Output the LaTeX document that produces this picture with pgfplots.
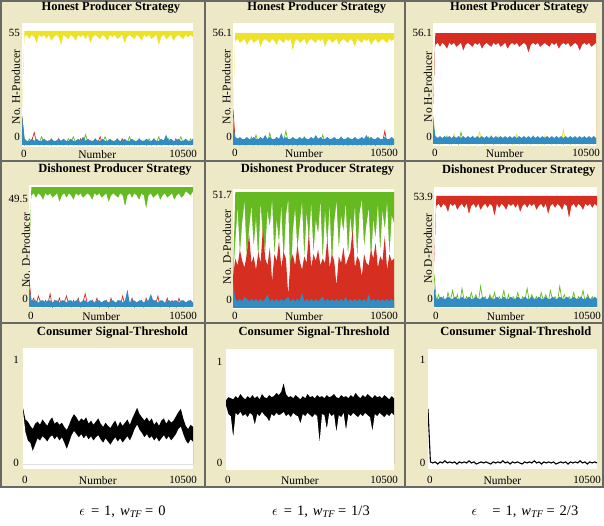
\documentclass[border=0pt]{standalone}
\usepackage{pgfplots}
\pgfplotsset{compat=1.18}
\usepackage{pgfplotstable}
\usepackage{fontspec}
\setmainfont{Liberation Serif}

\definecolor{panelbg}{RGB}{237,232,197}
\definecolor{framegray}{RGB}{105,105,100}
\definecolor{nlyellow}{RGB}{238,226,40}
\definecolor{nlgreen}{RGB}{100,186,32}
\definecolor{nlred}{RGB}{214,46,32}
\definecolor{nlblue}{RGB}{48,140,194}

% ---------- honest producers, w_TF = 0 : yellow range (lo/hi), green, red, blue ----------
\pgfplotstableread{
yl yh g r b
15 15 14 13 14
52 55 2 0 3
53 55 0 1 2
51 55 3 0 2
53 55 1 2 3
52 55 0 6 2
49 55 2 1 3
53 55 1 0 2
52 55 4 1 2
53 55 1 0 3
51 55 2 1 2
53 55 0 2 2
50 55 3 0 3
52 55 1 1 2
53 55 2 0 2
52 55 1 3 3
48 55 0 1 2
53 55 2 0 3
52 55 1 1 2
51 55 3 0 2
53 55 1 2 3
52 55 4 0 2
50 55 1 1 2
53 55 2 0 3
52 55 0 3 2
53 55 1 0 4
51 55 5 1 2
53 55 1 0 3
49 55 2 2 2
52 55 0 1 2
53 55 3 0 3
52 55 1 1 2
51 55 2 4 2
53 55 1 0 3
52 55 4 1 2
50 55 1 0 2
53 55 0 2 3
52 55 2 1 2
53 55 1 0 2
51 55 3 1 3
52 55 1 0 2
53 55 0 3 2
49 55 2 0 3
52 55 1 1 2
53 55 4 0 2
52 55 1 2 3
51 55 2 0 2
53 55 0 1 2
52 55 3 0 3
50 55 1 2 2
53 55 2 1 2
52 55 0 0 3
53 55 3 1 2
51 55 1 0 2
52 55 2 3 3
53 55 1 0 2
48 55 4 1 2
52 55 0 0 3
53 55 2 2 2
51 55 1 1 5
52 55 3 0 2
53 55 1 1 3
50 55 0 0 2
52 55 2 3 2
53 55 1 0 3
52 55 4 1 2
51 55 1 0 2
53 55 2 2 3
52 55 0 1 2
53 55 3 0 2
52 55 1 1 3
}\hA

% ---------- honest producers, w_TF = 1/3 ----------
\pgfplotstableread{
yl yh g r b
14 14 12 18 10
52 56 2 1 4
53 56 1 3 3
51 56 3 0 4
52 56 1 2 3
53 56 0 1 3
50 56 2 0 4
52 56 1 2 3
53 56 4 1 3
51 56 1 0 4
52 56 5 1 3
53 56 1 0 3
49 56 2 3 4
52 56 0 1 3
53 56 3 0 5
52 56 1 1 3
51 56 6 0 4
53 56 1 2 3
52 56 2 0 3
50 56 0 1 4
53 56 3 0 3
52 56 1 2 6
51 56 2 0 3
53 56 7 1 4
52 56 1 0 3
53 56 2 2 3
47 56 1 0 4
52 56 3 1 3
53 56 0 0 3
51 56 2 1 4
52 56 1 0 3
53 56 4 2 4
50 56 1 0 3
52 56 2 1 3
53 56 0 0 4
52 56 3 1 3
51 56 1 0 5
53 56 2 3 3
52 56 1 0 4
53 56 5 1 3
49 56 1 0 3
52 56 2 1 4
53 56 0 0 3
51 56 3 2 3
52 56 1 0 4
53 56 2 1 3
50 56 1 0 3
52 56 4 1 4
53 56 1 0 3
52 56 2 2 3
51 56 0 0 4
53 56 3 1 3
52 56 1 0 3
49 56 2 1 4
53 56 1 0 3
52 56 3 2 3
51 56 0 0 4
53 56 2 1 3
52 56 1 0 5
53 56 4 1 3
50 56 1 0 4
52 56 2 1 3
53 56 0 0 3
51 56 3 2 4
52 56 1 0 3
53 56 2 1 3
52 56 1 7 4
51 56 2 0 3
53 56 0 1 3
52 56 3 0 4
53 56 1 1 3
}\hB

% ---------- honest producers, w_TF = 2/3 : red range, yellow, green, blue ----------
\pgfplotstableread{
rl rh y g b
17 17 10 14 12
50 56 2 1 4
51 56 1 3 3
49 56 3 0 4
51 56 0 2 3
50 56 2 1 4
48 56 1 4 3
51 56 3 0 4
50 56 0 2 3
51 56 5 1 4
49 56 1 3 3
50 56 2 0 4
51 56 0 6 3
47 56 3 1 4
50 56 1 2 3
51 56 2 0 4
50 56 0 3 3
49 56 4 1 4
51 56 1 2 3
50 56 2 0 4
51 56 6 1 3
48 56 1 3 4
50 56 2 0 3
51 56 0 2 4
50 56 3 1 3
49 56 1 4 4
51 56 2 0 3
50 56 0 2 4
51 56 4 1 3
49 56 1 0 4
50 56 2 3 3
51 56 0 1 4
48 56 3 0 3
50 56 1 2 4
51 56 2 0 3
50 56 0 3 4
51 56 5 1 3
49 56 1 0 4
50 56 2 2 3
51 56 0 1 4
50 56 3 0 3
46 56 1 2 4
50 56 2 0 3
51 56 0 4 4
50 56 3 1 3
51 56 1 0 4
49 56 2 2 3
50 56 0 1 4
51 56 4 0 3
50 56 1 3 4
49 56 2 1 3
51 56 0 0 4
50 56 3 2 3
51 56 1 0 4
48 56 2 1 3
50 56 0 3 4
51 56 7 0 3
50 56 1 2 4
51 56 2 1 3
49 56 0 0 4
50 56 3 2 3
51 56 1 0 4
50 56 2 1 3
47 56 0 3 4
50 56 3 0 3
51 56 1 2 4
50 56 2 1 3
51 56 0 0 4
49 56 3 2 3
50 56 1 0 4
51 56 2 1 3
}\hC

% ---------- dishonest producers, w_TF = 0 : green range, yellow, red, blue ----------
\pgfplotstableread{
gl gh y r b
13 13 6 13 10
51 55 1 2 3
52 55 0 4 3
50 55 2 1 3
52 55 0 5 2
51 55 1 2 3
49 55 3 0 3
52 55 0 3 2
51 55 1 1 3
52 55 0 6 3
50 55 2 0 2
51 55 0 3 3
52 55 1 1 3
48 55 0 4 2
51 55 2 0 3
52 55 0 2 3
50 55 1 5 2
52 55 0 1 3
51 55 3 0 3
49 55 0 3 2
52 55 1 1 3
51 55 0 4 3
52 55 2 0 2
50 55 0 2 3
51 55 1 6 3
52 55 0 1 2
51 55 2 0 3
49 55 0 3 3
52 55 1 1 2
51 55 0 4 3
52 55 3 0 3
50 55 0 2 2
51 55 1 1 3
52 55 0 3 3
48 55 2 0 2
51 55 0 4 3
52 55 1 1 3
51 55 0 0 2
50 55 2 3 3
52 55 0 1 3
51 55 1 5 2
46 55 0 0 3
51 55 3 2 8
52 55 0 1 2
50 55 1 4 3
52 55 0 0 3
51 55 2 2 2
49 55 0 1 3
52 55 1 3 3
51 55 0 0 2
45 55 2 4 3
51 55 0 1 3
52 55 1 0 6
50 55 0 3 3
51 55 3 1 3
52 55 0 5 2
49 55 1 0 3
51 55 0 2 3
52 55 2 1 2
50 55 0 4 3
51 55 1 0 3
52 55 0 3 2
49 55 2 1 3
51 55 0 0 3
52 55 1 4 2
50 55 0 1 3
51 55 3 0 3
53 55 0 2 2
52 55 1 1 3
51 55 0 3 3
53 55 1 1 2
}\dA

% ---------- dishonest producers, w_TF = 1/3 : green and red ranges, blue ----------
\pgfplotstableread{
gl gh rl rh b
12 14 12 14 12
30 51.7 3 22 4
44 51.7 2 19 3
24 51.7 4 26 4
38 51.7 3 21 3
47 51.7 2 18 5
22 51.7 3 24 4
35 51.7 4 33 3
45 51.7 2 20 4
27 51.7 3 23 3
40 51.7 4 17 4
21 51.7 2 25 3
46 51.7 3 20 4
32 51.7 4 36 3
25 51.7 2 22 4
43 51.7 3 19 6
36 51.7 4 27 3
48 51.7 2 12 4
23 51.7 3 24 3
39 51.7 4 21 4
29 51.7 2 30 3
45 51.7 3 18 4
20 51.7 4 25 3
41 51.7 2 22 4
48 51.7 3 6 5
5 51.7 4 21 3
34 51.7 2 24 4
44 51.7 3 19 3
26 51.7 4 28 4
37 51.7 2 21 3
47 51.7 3 17 7
22 51.7 4 23 3
42 51.7 2 20 4
30 51.7 3 34 3
46 51.7 4 18 4
24 51.7 2 24 3
39 51.7 3 21 4
33 51.7 4 26 3
47 51.7 2 19 4
21 51.7 3 22 5
43 51.7 4 20 3
28 51.7 2 31 4
45 51.7 3 18 3
19 51.7 4 24 4
38 51.7 2 21 3
47 51.7 3 10 4
26 51.7 4 23 3
41 51.7 2 20 4
34 51.7 3 27 3
46 51.7 4 19 5
23 51.7 2 22 3
40 51.7 3 25 4
30 51.7 4 35 3
45 51.7 2 18 4
22 51.7 3 23 3
42 51.7 4 21 4
48 51.7 2 14 3
27 51.7 3 24 4
37 51.7 4 20 3
44 51.7 2 19 6
21 51.7 3 26 3
39 51.7 4 22 4
31 51.7 2 29 3
46 51.7 3 18 4
25 51.7 4 23 3
43 51.7 2 21 4
35 51.7 3 32 3
47 51.7 4 17 4
23 51.7 2 24 3
41 51.7 3 21 4
38 51.7 4 22 3
}\dB

% ---------- dishonest producers, w_TF = 2/3 : red range, green, yellow, blue ----------
\pgfplotstableread{
rl rh g y b
19 19 16 8 10
49 53.9 3 1 4
50 53.9 6 2 4
48 53.9 2 4 5
50 53.9 5 1 4
49 53.9 1 3 4
46 53.9 7 0 5
50 53.9 3 2 4
49 53.9 8 1 4
50 53.9 2 5 5
47 53.9 6 1 4
49 53.9 1 2 4
50 53.9 9 0 5
48 53.9 3 3 4
50 53.9 5 1 4
45 53.9 2 2 5
49 53.9 7 0 4
50 53.9 3 4 4
48 53.9 6 1 5
50 53.9 2 2 4
47 53.9 10 0 4
49 53.9 3 3 5
50 53.9 5 1 4
48 53.9 1 2 4
50 53.9 6 0 5
49 53.9 3 5 4
44 53.9 7 1 4
50 53.9 2 2 5
48 53.9 5 0 4
50 53.9 3 3 4
49 53.9 8 1 5
47 53.9 2 2 4
50 53.9 6 0 4
49 53.9 1 4 5
50 53.9 5 1 4
48 53.9 3 2 4
50 53.9 7 0 5
46 53.9 2 3 4
49 53.9 5 1 4
50 53.9 3 2 5
48 53.9 9 0 4
50 53.9 2 3 4
49 53.9 6 1 5
50 53.9 3 2 4
47 53.9 5 0 4
49 53.9 1 4 5
50 53.9 7 1 4
48 53.9 3 2 4
50 53.9 6 0 5
45 53.9 2 3 4
49 53.9 8 1 4
50 53.9 3 2 5
48 53.9 5 0 4
50 53.9 2 4 4
49 53.9 10 1 5
47 53.9 3 2 4
50 53.9 6 0 4
49 53.9 2 3 5
43 53.9 5 1 4
49 53.9 3 2 4
50 53.9 7 0 5
48 53.9 2 4 4
50 53.9 5 1 4
49 53.9 3 2 5
47 53.9 8 0 4
50 53.9 2 3 4
49 53.9 6 1 5
50 53.9 3 2 4
48 53.9 5 0 4
50 53.9 2 3 5
49 53.9 4 1 4
}\dC

% ---------- consumer signal threshold, w_TF = 0 (lo/hi) ----------
\pgfplotstableread{
lo hi
0.50 0.53
0.30 0.42
0.22 0.40
0.20 0.36
0.12 0.33
0.18 0.38
0.24 0.40
0.22 0.37
0.26 0.42
0.24 0.39
0.21 0.36
0.25 0.41
0.27 0.44
0.23 0.38
0.26 0.40
0.22 0.37
0.25 0.39
0.20 0.35
0.14 0.32
0.20 0.37
0.27 0.43
0.31 0.47
0.28 0.44
0.25 0.40
0.28 0.43
0.24 0.41
0.27 0.44
0.23 0.38
0.26 0.41
0.22 0.37
0.25 0.40
0.27 0.43
0.23 0.38
0.20 0.35
0.24 0.39
0.21 0.36
0.18 0.34
0.22 0.38
0.25 0.41
0.21 0.35
0.24 0.40
0.20 0.36
0.23 0.39
0.26 0.42
0.22 0.37
0.27 0.43
0.33 0.48
0.37 0.53
0.32 0.47
0.29 0.44
0.25 0.41
0.28 0.44
0.24 0.40
0.26 0.43
0.22 0.37
0.25 0.40
0.21 0.36
0.24 0.41
0.27 0.43
0.23 0.38
0.26 0.42
0.22 0.39
0.25 0.41
0.28 0.45
0.33 0.49
0.35 0.52
0.28 0.43
0.22 0.36
0.19 0.33
0.23 0.37
0.21 0.35
}\cA

% ---------- consumer signal threshold, w_TF = 1/3 (lo/hi) ----------
\pgfplotstableread{
lo hi
0.55 0.60
0.47 0.63
0.45 0.62
0.25 0.61
0.48 0.64
0.46 0.62
0.49 0.66
0.45 0.63
0.47 0.61
0.44 0.64
0.48 0.62
0.46 0.65
0.37 0.62
0.47 0.64
0.45 0.61
0.49 0.66
0.46 0.63
0.44 0.62
0.40 0.65
0.47 0.63
0.45 0.64
0.48 0.67
0.46 0.65
0.47 0.68
0.49 0.76
0.45 0.66
0.47 0.63
0.44 0.64
0.48 0.62
0.46 0.65
0.45 0.63
0.38 0.61
0.47 0.64
0.45 0.62
0.48 0.66
0.46 0.63
0.44 0.64
0.47 0.62
0.45 0.65
0.20 0.63
0.47 0.64
0.46 0.62
0.33 0.65
0.48 0.63
0.45 0.64
0.47 0.66
0.30 0.63
0.46 0.62
0.44 0.65
0.48 0.63
0.32 0.64
0.47 0.62
0.45 0.65
0.48 0.63
0.46 0.67
0.44 0.64
0.47 0.62
0.45 0.65
0.48 0.63
0.46 0.66
0.44 0.64
0.31 0.62
0.47 0.65
0.45 0.63
0.48 0.64
0.46 0.62
0.44 0.65
0.47 0.63
0.45 0.61
0.48 0.64
0.46 0.62
}\cB

% ---------- consumer signal threshold, w_TF = 2/3 ----------
\pgfplotstableread[row sep=\\]{
v\\0.52\\0.02\\0.01\\0.02\\0.00\\0.02\\0.01\\0.03\\0.01\\0.02\\
0.01\\0.02\\0.00\\0.02\\0.01\\0.02\\0.01\\0.03\\0.01\\0.02\\
0.00\\0.01\\0.02\\0.01\\0.02\\0.01\\0.00\\0.02\\0.01\\0.02\\
0.01\\0.03\\0.01\\0.02\\0.00\\0.02\\0.01\\0.02\\0.01\\0.00\\
0.02\\0.01\\0.02\\0.01\\0.03\\0.01\\0.02\\0.00\\0.02\\0.01\\
0.02\\0.01\\0.02\\0.00\\0.01\\0.02\\0.01\\0.02\\0.00\\0.02\\
0.01\\0.02\\0.01\\0.03\\0.01\\0.02\\0.00\\0.02\\0.01\\0.02\\
0.01\\
}\cC

\pgfplotsset{
  nlbase/.style={
    scale only axis, anchor=north west,
    axis background/.style={fill=white},
    axis line style={draw=none},
    major tick length=0pt, tick style={draw=none},
    xmin=0, xmax=10500, clip=true,
    scaled x ticks=false, scaled y ticks=false,
    ticklabel style={font=\fontsize{11}{12}\selectfont, inner sep=0pt},
    xtick={0}, xticklabels={0},
    extra x ticks={10500}, extra x tick labels={10500},
    xticklabel style={anchor=north west, xshift=-1pt},
    extra x tick style={xticklabel style={anchor=north east, xshift=5pt}},
    xlabel={Number},
    xlabel style={at={(axis description cs:0.44,0)}, anchor=north, inner sep=0pt,
      font=\fontsize{11.5}{12}\selectfont},
    % the y label is turned by 90 degrees, so its yshift moves it to the left
    ylabel style={anchor=center, inner sep=0pt, font=\fontsize{11.5}{12}\selectfont},
    title style={anchor=center, inner sep=0pt, font=\bfseries\fontsize{12.5}{14}\selectfont},
    ytick={0}, yticklabels={0},
    yticklabel style={anchor=east},
  },
  row1/.style={xticklabel style={yshift=-3pt}, xlabel style={yshift=-3pt}},
  row2/.style={xticklabel style={yshift=-4pt}, xlabel style={yshift=-4pt}},
  row3/.style={xticklabel style={yshift=-7pt}, xlabel style={yshift=-7pt}},
  % range of a series: colour up to the maximum, then white up to the minimum
  hiarea/.style={draw=none, fill=#1},
  loarea/.style={draw=none, fill=white},
}

\begin{document}
\begin{tikzpicture}
% panel frames
\begin{scope}[x=1pt,y=-1pt]
  \fill[white] (0,0) rectangle (604,526);
  \fill[framegray] (0,0) rectangle (604,488);
  \foreach \xa/\xb in {2/203.5, 205.5/403.5, 405.5/602}{
    \foreach \ya/\yb in {2/160.5, 162.5/322, 324/486}{
      \fill[panelbg] (\xa,\ya) rectangle (\xb,\yb);
    }
  }
\end{scope}

% ===== row 1 : honest producers =====
\begin{axis}[nlbase, row1, at={(22pt,-23pt)}, width=171pt, height=124pt,
  ymin=-0.97, ymax=58.86,
  title={Honest Producer Strategy}, title style={at={(axis description cs:0.52,1)}, yshift=9pt},
  ylabel={No. H-Producer}, ylabel style={at={(axis description cs:0,0.484)}, yshift=6pt},
  yticklabel style={xshift=-2pt, yshift=8pt},
  extra y ticks={55}, extra y tick labels={55}, extra y tick style={yticklabel style={yshift=-10pt}}]
  \addplot[hiarea=nlyellow] table[x expr=\coordindex*150, y=yh] {\hA} \closedcycle;
  \addplot[loarea] table[x expr=\coordindex*150, y=yl] {\hA} \closedcycle;
  \addplot[nlgreen, line width=0.7pt] table[x expr=\coordindex*150, y=g] {\hA};
  \addplot[nlred, line width=0.7pt] table[x expr=\coordindex*150, y=r] {\hA};
  \addplot[draw=none, fill=nlblue] table[x expr=\coordindex*150, y=b] {\hA} \closedcycle;
\end{axis}

\begin{axis}[nlbase, row1, at={(233pt,-23pt)}, width=161pt, height=123pt,
  ymin=-0.5, ymax=61.11,
  title={Honest Producer Strategy}, title style={at={(axis description cs:0.52,1)}, yshift=9pt},
  ylabel={No. H-Producer}, ylabel style={at={(axis description cs:0,0.48)}, yshift=6.5pt},
  yticklabel style={xshift=-1pt, yshift=8pt},
  extra y ticks={56.1}, extra y tick labels={56.1}, extra y tick style={yticklabel style={yshift=-8pt}}]
  \addplot[hiarea=nlyellow] table[x expr=\coordindex*150, y=yh] {\hB} \closedcycle;
  \addplot[loarea] table[x expr=\coordindex*150, y=yl] {\hB} \closedcycle;
  \addplot[nlgreen, line width=0.7pt] table[x expr=\coordindex*150, y=g] {\hB};
  \addplot[nlred, line width=0.7pt] table[x expr=\coordindex*150, y=r] {\hB};
  \addplot[draw=none, fill=nlblue] table[x expr=\coordindex*150, y=b] {\hB} \closedcycle;
\end{axis}

\begin{axis}[nlbase, row1, at={(433pt,-23pt)}, width=163pt, height=123pt,
  ymin=-1.01, ymax=61.15,
  title={Honest Producer Strategy}, title style={at={(axis description cs:0.53,1)}, yshift=9pt},
  ylabel={No H-Producer}, ylabel style={at={(axis description cs:0,0.48)}, yshift=5pt},
  yticklabel style={xshift=-1pt, yshift=7pt},
  extra y ticks={56.1}, extra y tick labels={56.1}, extra y tick style={yticklabel style={yshift=-7pt}}]
  \addplot[hiarea=nlred] table[x expr=\coordindex*150, y=rh] {\hC} \closedcycle;
  \addplot[loarea] table[x expr=\coordindex*150, y=rl] {\hC} \closedcycle;
  \addplot[nlyellow, line width=0.7pt] table[x expr=\coordindex*150, y=y] {\hC};
  \addplot[nlgreen, line width=0.7pt] table[x expr=\coordindex*150, y=g] {\hC};
  \addplot[draw=none, fill=nlblue] table[x expr=\coordindex*150, y=b] {\hC} \closedcycle;
\end{axis}

% ===== row 2 : dishonest producers =====
\begin{axis}[nlbase, row2, at={(29pt,-185pt)}, width=164pt, height=123pt,
  ymin=-0.46, ymax=55.92,
  title={Dishonest Producer Strategy}, title style={at={(axis description cs:0.524,1)}, yshift=9pt},
  ylabel={No. D-Producer}, ylabel style={at={(axis description cs:0,0.47)}, yshift=3pt},
  yticklabel style={xshift=-1pt, yshift=8pt},
  extra y ticks={49.5}, extra y tick labels={49.5}, extra y tick style={yticklabel style={yshift=-8pt}}]
  \addplot[hiarea=nlgreen] table[x expr=\coordindex*150, y=gh] {\dA} \closedcycle;
  \addplot[loarea] table[x expr=\coordindex*150, y=gl] {\dA} \closedcycle;
  \addplot[nlyellow, line width=0.7pt] table[x expr=\coordindex*150, y=y] {\dA};
  \addplot[nlred, line width=0.7pt] table[x expr=\coordindex*150, y=r] {\dA};
  \addplot[draw=none, fill=nlblue] table[x expr=\coordindex*150, y=b] {\dA} \closedcycle;
\end{axis}

\begin{axis}[nlbase, row2, at={(233pt,-189pt)}, width=161pt, height=120pt,
  ymin=-0.45, ymax=53.04,
  xticklabel style={yshift=1pt}, xlabel style={yshift=1pt},
  title={Dishonest Producer Strategy}, title style={at={(axis description cs:0.525,1)}, yshift=13pt},
  ylabel={No. D-Producer}, ylabel style={at={(axis description cs:0,0.517)}, yshift=6pt},
  yticklabel style={xshift=-1pt, yshift=8pt},
  extra y ticks={51.7}, extra y tick labels={51.7}, extra y tick style={yticklabel style={yshift=-11pt}}]
  \addplot[hiarea=nlgreen] table[x expr=\coordindex*150, y=gh] {\dB} \closedcycle;
  \addplot[loarea] table[x expr=\coordindex*150, y=gl] {\dB} \closedcycle;
  \addplot[hiarea=nlred] table[x expr=\coordindex*150, y=rh] {\dB} \closedcycle;
  \addplot[draw=none, fill=nlblue] table[x expr=\coordindex*150, y=b] {\dB} \closedcycle;
\end{axis}

\begin{axis}[nlbase, row2, at={(434pt,-187pt)}, width=163pt, height=121pt,
  ymin=-0.49, ymax=58.27,
  title={Dishonest Producer Strategy}, title style={at={(axis description cs:0.52,1)}, yshift=10pt},
  ylabel={No D-Producer}, ylabel style={at={(axis description cs:0,0.49)}, yshift=6pt},
  yticklabel style={xshift=-1pt, yshift=8pt},
  extra y ticks={53.9}, extra y tick labels={53.9}, extra y tick style={yticklabel style={yshift=-9pt}}]
  \addplot[hiarea=nlred] table[x expr=\coordindex*150, y=rh] {\dC} \closedcycle;
  \addplot[loarea] table[x expr=\coordindex*150, y=rl] {\dC} \closedcycle;
  \addplot[nlyellow, line width=0.7pt] table[x expr=\coordindex*150, y=y] {\dC};
  \addplot[nlgreen, line width=0.7pt] table[x expr=\coordindex*150, y=g] {\dC};
  \addplot[draw=none, fill=nlblue] table[x expr=\coordindex*150, y=b] {\dC} \closedcycle;
\end{axis}

% ===== row 3 : consumer signal threshold =====
\begin{axis}[nlbase, row3, at={(23pt,-348pt)}, width=170pt, height=121pt,
  ymin=-0.047, ymax=1.094,
  title={Consumer Signal-Threshold}, title style={at={(axis description cs:0.526,1)}, yshift=9pt},
  yticklabel style={xshift=-4pt, yshift=1pt},
  extra y ticks={1}, extra y tick labels={1}, extra y tick style={yticklabel style={yshift=-3pt}}]
  \addplot[hiarea=black] table[x expr=\coordindex*150, y=hi] {\cA} \closedcycle;
  \addplot[loarea] table[x expr=\coordindex*150, y=lo] {\cA} \closedcycle;
\end{axis}

\begin{axis}[nlbase, row3, at={(226pt,-349pt)}, width=168pt, height=121pt,
  ymin=-0.057, ymax=1.085,
  xticklabel style={yshift=1pt}, xlabel style={yshift=1pt},
  title={Consumer Signal-Threshold}, title style={at={(axis description cs:0.524,1)}, yshift=10pt},
  yticklabel style={xshift=-3.5pt, yshift=1pt},
  extra y ticks={1}, extra y tick labels={1}, extra y tick style={yticklabel style={yshift=-5pt}}]
  \addplot[hiarea=black] table[x expr=\coordindex*150, y=hi] {\cB} \closedcycle;
  \addplot[loarea] table[x expr=\coordindex*150, y=lo] {\cB} \closedcycle;
\end{axis}

\begin{axis}[nlbase, row3, at={(428pt,-349pt)}, width=169pt, height=120pt,
  ymin=-0.047, ymax=1.085,
  title={Consumer Signal-Threshold}, title style={at={(axis description cs:0.52,1)}, yshift=10pt},
  yticklabel style={xshift=-2.5pt, yshift=1pt},
  extra y ticks={1}, extra y tick labels={1}, extra y tick style={yticklabel style={yshift=-3pt}}]
  \addplot[black, line width=1.1pt] table[x expr=\coordindex*150, y=v] {\cC};
\end{axis}

% parameter settings under each column
\begin{scope}[x=1pt,y=-1pt, every node/.style={font=\fontsize{14.5}{16}\selectfont, inner sep=0pt}]
  \node at (122.5,512) {$\epsilon$\hspace{6pt}=\hspace{5pt}1,\hspace{5pt}\textit{w}\textsubscript{\textit{TF}}\hspace{3pt}=\hspace{5pt}0};
  \node at (321,512) {$\epsilon$\hspace{6pt}=\hspace{5pt}1,\hspace{5pt}\textit{w}\textsubscript{\textit{TF}}\hspace{3pt}=\hspace{5pt}1/3};
  \node at (525,512) {$\epsilon$\hspace{15pt}=\hspace{5pt}1,\hspace{5pt}\textit{w}\textsubscript{\textit{TF}}\hspace{3pt}=\hspace{5pt}2/3};
\end{scope}
\end{tikzpicture}
\end{document}
